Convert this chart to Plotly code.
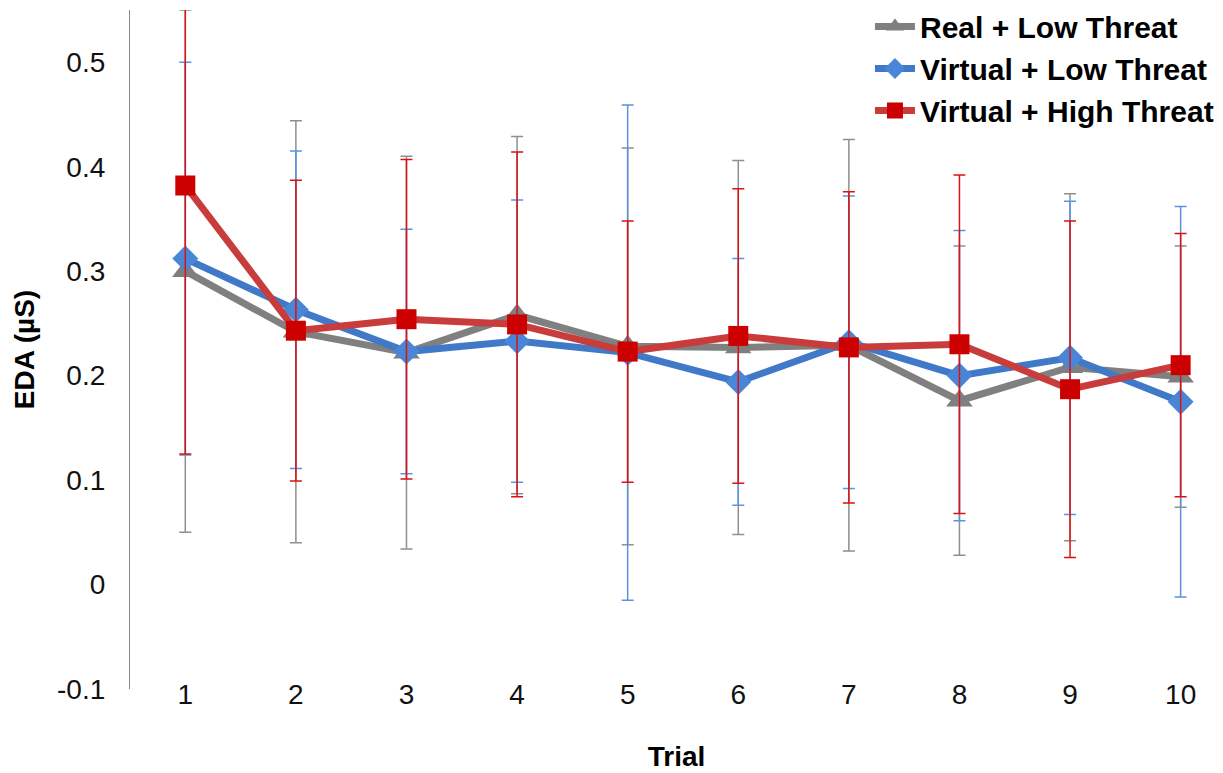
import plotly.graph_objects as go

trials = [1, 2, 3, 4, 5, 6, 7, 8, 9, 10]

real_low_mean = [0.300, 0.242, 0.222, 0.258, 0.228, 0.227, 0.229, 0.176, 0.208, 0.199]
real_low_sd = [0.250, 0.202, 0.188, 0.171, 0.190, 0.179, 0.197, 0.148, 0.166, 0.125]

virt_low_mean = [0.312, 0.263, 0.223, 0.233, 0.222, 0.194, 0.232, 0.200, 0.217, 0.175]
virt_low_sd = [0.188, 0.152, 0.117, 0.135, 0.237, 0.118, 0.140, 0.139, 0.150, 0.187]

virt_high_mean = [0.382, 0.243, 0.254, 0.249, 0.223, 0.238, 0.227, 0.230, 0.187, 0.210]
virt_high_sd = [0.257, 0.144, 0.153, 0.165, 0.125, 0.141, 0.149, 0.162, 0.161, 0.126]

series = [
    ("Real + Low Threat", real_low_mean, real_low_sd, "#808080", "#7f7f7f", "#8f8f8f", "triangle-up", 23, "g1"),
    ("Virtual + Low Threat", virt_low_mean, virt_low_sd, "#4079c8", "#4a86d8", "#5b93e0", "diamond", 20, "g2"),
    ("Virtual + High Threat", virt_high_mean, virt_high_sd, "#c83c3c", "#cc0000", "#dd1111", "square", 20, "g3"),
]

fig = go.Figure()
for name, mean, sd, lc, mc, ec, sym, size, grp in series:
    fig.add_trace(go.Scatter(
        x=trials, y=mean, name=name, mode="lines+markers",
        legendgroup=grp,
        line=dict(color=lc, width=7),
        marker=dict(symbol=sym, size=size, color=mc, line=dict(width=0)),
        error_y=dict(type="data", array=sd, visible=True, color=ec, thickness=1.5, width=6),
    ))

fig.update_layout(
    width=1223, height=773,
    paper_bgcolor="white", plot_bgcolor="white",
    margin=dict(l=130, r=0, t=10, b=84),
    font=dict(family="Liberation Sans, Arial, sans-serif", color="#111111"),
    showlegend=True,
    legend=dict(
        x=0.677, xanchor="left", y=1.014, yanchor="top",
        font=dict(size=30, color="black", family="Liberation Sans, Arial, sans-serif", weight="bold"),
        traceorder="grouped", tracegroupgap=0,
        bgcolor="rgba(0,0,0,0)", itemwidth=40,
    ),
    xaxis=dict(
        range=[0.5, 10.383], tickmode="array", tickvals=trials, ticktext=[str(t) for t in trials],
        showline=False, showgrid=False, zeroline=False, ticks="",
        ticklabelstandoff=-14,
        tickfont=dict(size=28, color="#111111"),
        title=dict(text="<b>Trial</b>", font=dict(size=28, color="black"), standoff=37),
    ),
    yaxis=dict(
        range=[-0.1, 0.55], tickmode="array",
        tickvals=[-0.1, 0, 0.1, 0.2, 0.3, 0.4, 0.5],
        ticktext=["-0.1", "0", "0.1", "0.2", "0.3", "0.4", "0.5"],
        showline=True, linecolor="#8a8a8a", linewidth=1.2,
        showgrid=False, zeroline=False, ticks="",
        ticklabelstandoff=18,
        tickfont=dict(size=28, color="#111111"),
        title=dict(text="<b>EDA (µS)</b>", font=dict(size=28, color="black"), standoff=14),
    ),
)

fig.write_html("out.html", config={"displayModeBar": False},
               post_script="document.body.style.margin='0';")
